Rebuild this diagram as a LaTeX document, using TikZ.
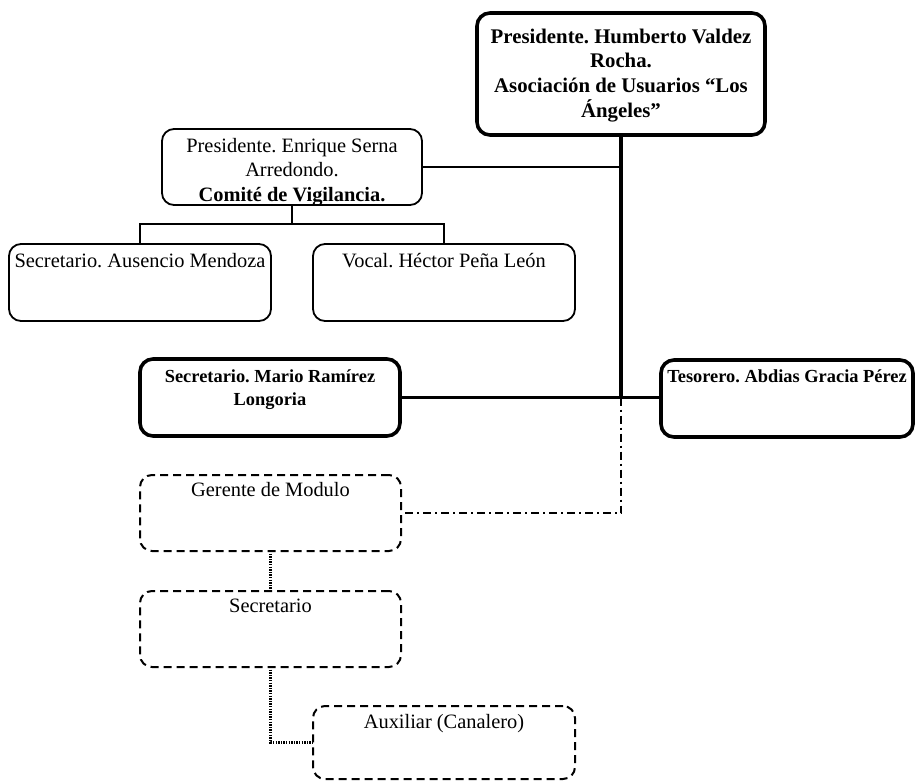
\documentclass[tikz,border=0pt]{standalone}
\usepackage{fontspec}
\setmainfont{Liberation Serif}
\frenchspacing
\newcommand{\boxtxt}[4]{\parbox[b][#2][t]{#1}{\frenchspacing\centering\rule{0pt}{#3}#4\par}}
\begin{document}
\begin{tikzpicture}[x=1pt,y=-1pt,
  every node/.style={inner sep=0pt, outer sep=0pt, anchor=north west},
  boldbox/.style={draw, line width=3.6pt, rounded corners=13pt},
  thinbox/.style={draw, line width=1.8pt, rounded corners=12pt},
  dashbox/.style={draw, line width=2pt, rounded corners=12pt, dash pattern=on 8pt off 5pt},
  regfont/.style={font=\fontsize{20.4}{24.5}\selectfont},
  bigbold/.style={font=\fontsize{20.8}{24.7}\selectfont\bfseries},
  smallbold/.style={font=\fontsize{18.4}{23}\selectfont\bfseries},
  thickline/.style={line width=3.6pt},
  thinline/.style={line width=1.1pt},
  dashdotline/.style={line width=2.5pt, dash pattern=on 8pt off 4pt on 2pt off 4pt},
  dotline/.style={line width=3pt, dash pattern=on 1.3pt off 1.3pt}
]
\useasboundingbox (0,0) rectangle (915,780);

\node[boldbox, bigbold] (pres) at (477,13)
  {\boxtxt{288pt}{122pt}{30pt}{Presidente. Humberto Valdez\\ Rocha.\\ Asociación de Usuarios “Los\\ Ángeles”}};
\node[thinbox, regfont] (comite) at (162,129)
  {\boxtxt{260pt}{76pt}{23pt}{Presidente. Enrique Serna\\ Arredondo.\\ \textbf{Comité de Vigilancia.}}};
\node[thinbox, regfont] (ausencio) at (9,244)
  {\boxtxt{262pt}{77pt}{23pt}{Secretario. Ausencio Mendoza}};
\node[thinbox, regfont] (vocal) at (313,244)
  {\boxtxt{262pt}{77pt}{23pt}{Vocal. Héctor Peña León}};
\node[boldbox, smallbold] (mario) at (140,359)
  {\boxtxt{260pt}{77pt}{23pt}{Secretario. Mario Ramírez\\ Longoria}};
\node[boldbox, smallbold] (tesorero) at (661,360)
  {\boxtxt{252pt}{77pt}{22pt}{Tesorero. Abdias Gracia Pérez}};
\node[dashbox, regfont] (gerente) at (140,475)
  {\boxtxt{261pt}{76pt}{21pt}{Gerente de Modulo}};
\node[dashbox, regfont] (secdash) at (140,591)
  {\boxtxt{261pt}{76pt}{21pt}{Secretario}};
\node[dashbox, regfont] (aux) at (313,706)
  {\boxtxt{262pt}{73pt}{22pt}{Auxiliar (Canalero)}};

\coordinate (junc) at (pres.south |- mario.east);

\draw[thickline] (pres.south) -- (junc);
\draw[thickline] (mario.east) -- (mario.east -| tesorero.west);
\draw[thinline] (comite.east) -- (comite.east -| pres.south);
\draw[thinline] (comite.south) -- ++(0,19) -| (ausencio.north);
\draw[thinline] (comite.south) -- ++(0,19) -| (vocal.north);
\draw[dashdotline] (junc) -- (junc |- gerente.east) -- (gerente.east);
\draw[dotline] (gerente.south) -- (secdash.north);
\draw[dotline] (secdash.south) |- (aux.west);
\end{tikzpicture}
\end{document}
